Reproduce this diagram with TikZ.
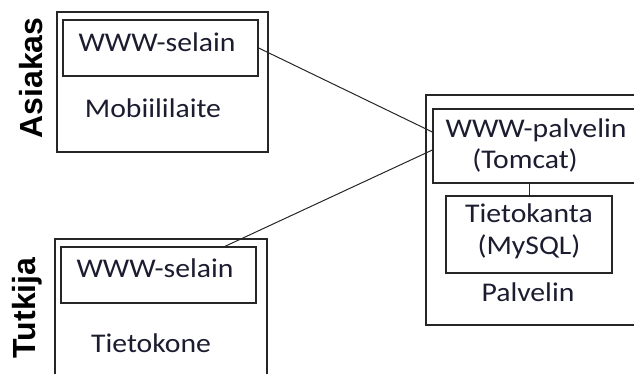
\documentclass[tikz,border=0pt]{standalone}
\usepackage{fontspec}
\setmainfont{Carlito}[FakeStretch=1.1]
\newfontfamily\rolefont{Liberation Sans}
\definecolor{ink}{HTML}{1C1C30}
\begin{document}
\begin{tikzpicture}[x=1pt,y=-1pt,
  box/.style={draw=black!85,line width=1.3pt,inner sep=0pt},
  lbl/.style={inner sep=0pt,text=ink,font=\fontsize{27}{31}\selectfont},
  role/.style={inner sep=0pt,rotate=90,font=\rolefont\bfseries\fontsize{32}{36}\selectfont},
  link/.style={draw=black!85,line width=1pt}]
\useasboundingbox (0,0) rectangle (634,374);
\clip (0,0) rectangle (634,374);

% client device
\node[box,minimum width=211pt,minimum height=140pt] (asOuter) at (162.5,82) {};
\node[box,minimum width=195pt,minimum height=56pt] (asIn) at (160.5,48) {};
\node[lbl] (asBrowser) at (157,42) {WWW-selain};
\node[lbl] (asDevice) at (153,108) {Mobiililaite};
\node[role] (asRole) at (31,78) {Asiakas};

% researcher computer
\node[box,minimum width=212pt,minimum height=161pt] (tkOuter) at (161,319.5) {};
\node[box,minimum width=195pt,minimum height=56pt] (tkIn) at (158.5,275) {};
\node[lbl] (tkBrowser) at (155,268) {WWW-selain};
\node[lbl] (tkDevice) at (151,343) {Tietokone};
\node[role] (tkRole) at (27,308) {Tutkija};

% server
\node[box,minimum width=234pt,minimum height=230pt] (pvOuter) at (543,210) {};
\node[box,minimum width=227pt,minimum height=74pt] (pvWeb) at (546.5,146) {};
\node[lbl] (pvWebName) at (536,130) {WWW-palvelin};
\node[lbl] (pvWebSw) at (525,160) {(Tomcat)};
\node[box,minimum width=166pt,minimum height=77pt] (dbBox) at (529,234.5) {};
\node[lbl] (dbName) at (529,213) {Tietokanta};
\node[lbl] (dbSw) at (529,247) {(MySQL)};
\node[lbl] (pvName) at (528,292) {Palvelin};

% connections
\draw[link] (asIn.east) -- ([yshift=14pt]pvWeb.west);
\draw[link] ([xshift=66.5pt]tkIn.north) -- ([yshift=-4pt]pvWeb.west);
\draw[link] (dbBox.north) -- (dbBox.north |- pvWeb.south);
\end{tikzpicture}
\end{document}
